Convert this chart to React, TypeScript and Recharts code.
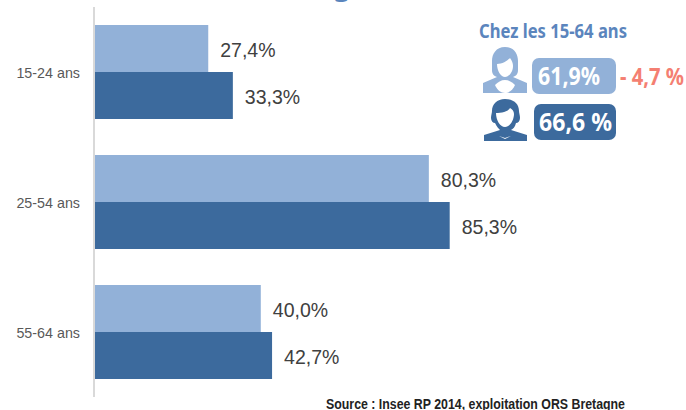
import React from 'react';
import { BarChart, Bar, XAxis, YAxis, LabelList } from 'recharts';

const ageGroups = ['15-24 ans', '25-54 ans', '55-64 ans'];
const femmes = [27.4, 80.3, 40.0];
const hommes = [33.3, 85.3, 42.7];

const data = ageGroups.map((age, i) => ({ age, femmes: femmes[i], hommes: hommes[i] }));

const LIGHT = '#92b1d8';
const DARK = '#3c6a9d';
const SANS = '"Liberation Sans", Arial, sans-serif';
const NOTO = "'Noto Sans', sans-serif";

const fmt = (v: any) => `${Number(v).toFixed(1).replace('.', ',')}%`;

const labelStyle = { fontFamily: SANS, fontSize: 19.5, fill: '#404040' };

// side panel drawn over the chart
const Panel = () => (
  <svg width={686} height={410} style={{ position: 'absolute', left: 0, top: 0 }}>
    <text x={342} y={-5} textAnchor="middle" fontFamily={NOTO} fontWeight={700} fontSize={28} fill="#5b85bd">g</text>
    <text x={479} y={38} fontFamily={NOTO} fontWeight={700} fontSize={20} fill="#5b85bd" textLength={148} lengthAdjust="spacingAndGlyphs">Chez les 15-64 ans</text>

    {/* femme */}
    <path
      d="M505 47c-9 0-13 7-13 14v9c0 4 2 6 5 7l-14 6v10h44V83l-14-6c3-1 5-3 5-7v-9c0-7-4-14-13-14z"
      fill={LIGHT}
    />
    <path d="M497 64c5 0 10-3 13-6 2 3 3 5 3 8 0 6-4 11-8 11s-8-6-8-13z" fill="#fff" />
    <path d="M495 85c3-3 6-5 10-5s7 2 10 5c-2 5-6 8-10 8s-8-3-10-8z" fill="#fff" />
    <rect x={532} y={58} width={84} height={36} rx={7} fill={LIGHT} />
    <text x={538} y={85} fontFamily={NOTO} fontWeight={700} fontSize={25} fill="#fff" textLength={62} lengthAdjust="spacingAndGlyphs">61,9%</text>
    <text x={620} y={85} fontFamily={NOTO} fontWeight={700} fontSize={24} fill="#f47f72" textLength={64} lengthAdjust="spacingAndGlyphs">- 4,7 %</text>

    {/* homme */}
    <path
      d="M505 99c-8 0-13 5-13 12 0 2-1 4-1 7 0 3 2 5 4 5 2 4 4 6 5 7l-16 5v6h43v-6l-16-5c2-1 4-3 5-7 2 0 4-2 4-5 0-3-1-5-1-7 0-7-5-12-14-12z"
      fill={DARK}
    />
    <path d="M496 113c5 0 12-1 14-5 2 1 4 3 4 6 0 6-4 13-9 13s-9-7-9-14z" fill="#fff" />
    <path d="M499 136l6 2 6-2-6 3z" fill="#fff" />
    <rect x={534} y={104} width={82} height={36} rx={7} fill={DARK} />
    <text x={539} y={131} fontFamily={NOTO} fontWeight={700} fontSize={25} fill="#fff" textLength={73} lengthAdjust="spacingAndGlyphs">66,6 %</text>

    <text x={326} y={409} fontFamily={SANS} fontWeight={700} fontSize={14} fill="#222" textLength={299} lengthAdjust="spacingAndGlyphs">Source : Insee RP 2014, exploitation ORS Bretagne</text>
  </svg>
);

const App = () => (
  <div style={{ position: 'absolute', left: 0, top: 0, width: 686, height: 410, overflow: 'hidden', background: '#fff' }}>
    <BarChart
      width={686}
      height={410}
      data={data}
      layout="vertical"
      barSize={47}
      barGap={0}
      margin={{ top: 7, right: 175, bottom: 13, left: 0 }}
    >
      <XAxis type="number" domain={[0, 100]} hide />
      <YAxis
        type="category"
        dataKey="age"
        width={94}
        axisLine={{ stroke: '#d9d9d9', strokeWidth: 2 }}
        tickLine={false}
        tickMargin={8}
        tick={{ fontFamily: SANS, fontSize: 14.3, fill: '#595959', dy: 1 }}
      />
      <Bar dataKey="femmes" fill={LIGHT} isAnimationActive={false}>
        <LabelList dataKey="femmes" position="right" offset={12} dy={1.5} formatter={fmt} style={labelStyle} />
      </Bar>
      <Bar dataKey="hommes" fill={DARK} isAnimationActive={false}>
        <LabelList dataKey="hommes" position="right" offset={12} dy={1.5} formatter={fmt} style={labelStyle} />
      </Bar>
    </BarChart>
    <Panel />
  </div>
);

export default App;
